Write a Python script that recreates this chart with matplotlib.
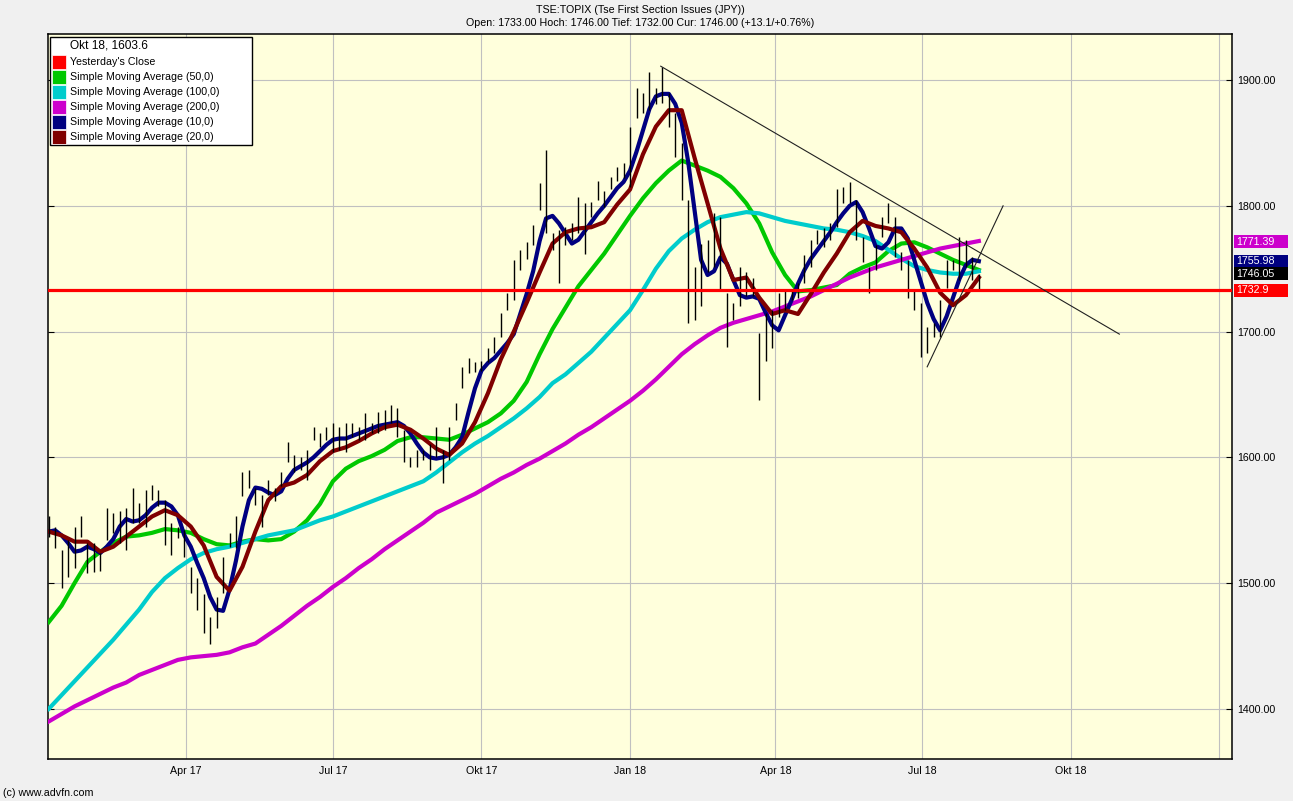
import numpy as np
import pandas as pd
import matplotlib
matplotlib.use("Agg")
import matplotlib.pyplot as plt
from matplotlib.patches import Rectangle
from matplotlib.ticker import FormatStrFormatter

plt.rcParams['font.family'] = ['Liberation Sans', 'DejaVu Sans']

# price bars, one every 4 days from 2017-01-06
bar_start = "2017-01-06"
bar_high = [1553, 1545, 1526, 1534, 1545, 1553, 1532, 1532, 1524, 1560,
            1556, 1557, 1560, 1576, 1564, 1574, 1578, 1574, 1566, 1548,
            1545, 1542, 1513, 1504, 1491, 1473, 1489, 1521, 1540, 1553,
            1588, 1590, 1576, 1570, 1582, 1576, 1588, 1612, 1602, 1600,
            1606, 1624, 1619, 1624, 1627, 1624, 1627, 1627, 1624, 1635,
            1627, 1636, 1638, 1642, 1639, 1622, 1600, 1606, 1606, 1611,
            1624, 1606, 1624, 1643, 1672, 1679, 1676, 1677, 1687, 1696,
            1715, 1731, 1757, 1765, 1771, 1785, 1818, 1844, 1778, 1781,
            1783, 1786, 1807, 1802, 1803, 1820, 1812, 1823, 1831, 1834,
            1863, 1894, 1890, 1906, 1894, 1910, 1890, 1874, 1850, 1805,
            1751, 1770, 1773, 1794, 1791, 1731, 1723, 1751, 1747, 1743,
            1699, 1715, 1717, 1731, 1733, 1733, 1739, 1761, 1773, 1781,
            1782, 1786, 1813, 1815, 1819, 1805, 1775, 1751, 1769, 1791,
            1802, 1791, 1763, 1757, 1733, 1723, 1704, 1707, 1725, 1757,
            1757, 1775, 1773, 1759, 1746]
bar_low = [1537, 1528, 1496, 1505, 1512, 1537, 1508, 1509, 1510, 1534,
           1540, 1532, 1526, 1548, 1548, 1545, 1566, 1561, 1530, 1522,
           1536, 1521, 1492, 1479, 1460, 1452, 1464, 1492, 1529, 1528,
           1569, 1576, 1562, 1545, 1570, 1565, 1577, 1596, 1588, 1590,
           1582, 1614, 1608, 1614, 1604, 1606, 1604, 1616, 1614, 1614,
           1619, 1619, 1622, 1627, 1616, 1596, 1592, 1592, 1598, 1590,
           1600, 1580, 1598, 1630, 1655, 1667, 1668, 1669, 1676, 1683,
           1696, 1717, 1725, 1749, 1758, 1769, 1797, 1778, 1765, 1739,
           1769, 1773, 1778, 1762, 1791, 1805, 1799, 1813, 1820, 1822,
           1815, 1870, 1874, 1876, 1881, 1882, 1863, 1839, 1805, 1707,
           1709, 1720, 1747, 1751, 1733, 1688, 1709, 1720, 1728, 1728,
           1646, 1677, 1687, 1712, 1717, 1725, 1727, 1739, 1751, 1770,
           1767, 1773, 1783, 1802, 1802, 1773, 1755, 1731, 1749, 1775,
           1786, 1759, 1749, 1727, 1717, 1680, 1683, 1696, 1696, 1735,
           1749, 1741, 1751, 1741, 1732]

# 10-day average, same 4-day grid as the bars
ma10 = [1541, 1542, 1538, 1532, 1525, 1526, 1529, 1527, 1524, 1529,
        1535, 1545, 1551, 1549, 1550, 1554, 1560, 1564, 1564, 1561,
        1554, 1538, 1529, 1516, 1504, 1489, 1479, 1478, 1495, 1518,
        1545, 1566, 1576, 1575, 1572, 1570, 1573, 1583, 1590, 1593,
        1596, 1600, 1605, 1610, 1614, 1615, 1615, 1617, 1619, 1621,
        1623, 1625, 1626, 1627, 1628, 1625, 1619, 1611, 1604, 1600,
        1599, 1600, 1602, 1608, 1616, 1636, 1655, 1669, 1675, 1679,
        1685, 1691, 1698, 1714, 1730, 1748, 1772, 1790, 1792, 1786,
        1778, 1770, 1773, 1780, 1787, 1794, 1800, 1807, 1814, 1819,
        1828, 1843, 1860, 1877, 1887, 1889, 1889, 1881, 1866, 1835,
        1796, 1757, 1745, 1748, 1759, 1754, 1741, 1729, 1727, 1728,
        1726, 1715, 1705, 1701, 1713, 1725, 1738, 1749, 1758, 1765,
        1772, 1779, 1787, 1794, 1800, 1803, 1795, 1782, 1768, 1766,
        1771, 1782, 1782, 1774, 1757, 1740, 1723, 1710, 1701, 1712,
        1727, 1742, 1753, 1757, 1756]

# slower averages, one value every 8 days
ma20 = [1541, 1538, 1533, 1533, 1525, 1529, 1537, 1545, 1553, 1558,
        1554, 1545, 1530, 1505, 1494, 1513, 1541, 1566, 1577, 1580,
        1586, 1597, 1605, 1608, 1613, 1619, 1624, 1626, 1622, 1615,
        1607, 1602, 1611, 1628, 1651, 1678, 1700, 1723, 1747, 1770,
        1779, 1782, 1783, 1787, 1801, 1813, 1841, 1863, 1876, 1876,
        1838, 1802, 1766, 1741, 1743, 1727, 1714, 1717, 1714, 1730,
        1747, 1762, 1779, 1788, 1784, 1782, 1779, 1766, 1751, 1731,
        1721, 1729, 1743]
ma50 = [1469, 1482, 1500, 1517, 1525, 1532, 1537, 1538, 1540, 1543,
        1542, 1540, 1535, 1531, 1530, 1533, 1535, 1534, 1535, 1541,
        1550, 1563, 1581, 1591, 1597, 1601, 1606, 1613, 1616, 1616,
        1615, 1614, 1618, 1623, 1628, 1635, 1645, 1660, 1682, 1702,
        1719, 1736, 1749, 1762, 1777, 1792, 1806, 1818, 1828, 1836,
        1832, 1828, 1823, 1814, 1802, 1786, 1763, 1745, 1732, 1733,
        1735, 1737, 1746, 1751, 1755, 1764, 1770, 1771, 1767, 1762,
        1757, 1753, 1749]
ma100 = [1400, 1411, 1422, 1433, 1444, 1455, 1467, 1479, 1493, 1504,
         1512, 1519, 1524, 1527, 1529, 1532, 1535, 1538, 1540, 1542,
         1546, 1550, 1553, 1557, 1561, 1565, 1569, 1573, 1577, 1581,
         1588, 1596, 1604, 1611, 1617, 1624, 1631, 1639, 1648, 1659,
         1666, 1675, 1684, 1695, 1706, 1717, 1733, 1750, 1764, 1774,
         1781, 1787, 1791, 1793, 1795, 1794, 1791, 1788, 1786, 1784,
         1782, 1781, 1779, 1776, 1772, 1765, 1758, 1752, 1749, 1747,
         1746, 1746, 1748]
ma200 = [1390, 1396, 1402, 1407, 1412, 1417, 1421, 1427, 1431, 1435,
         1439, 1441, 1442, 1443, 1445, 1449, 1452, 1459, 1466, 1474,
         1482, 1489, 1497, 1504, 1512, 1519, 1527, 1534, 1541, 1548,
         1556, 1561, 1566, 1571, 1577, 1583, 1588, 1594, 1599, 1605,
         1611, 1618, 1624, 1631, 1638, 1645, 1653, 1662, 1672, 1682,
         1690, 1697, 1703, 1707, 1710, 1713, 1716, 1720, 1724, 1728,
         1733, 1738, 1743, 1747, 1751, 1754, 1757, 1760, 1763, 1766,
         1768, 1770, 1772]

yesterday_close = 1732.9

# hand drawn trend lines
trend_down_dates = ["2018-01-20", "2018-10-31"]
trend_down_vals = [1911, 1698]
trend_up_dates = ["2018-07-04", "2018-08-20"]
trend_up_vals = [1672, 1800]

# last values shown on the right
last_vals = [1771.39, 1755.98, 1746.05, 1732.9]
last_text = ["1771.39", "1755.98", "1746.05", "1732.9"]
last_cols = ["#CC00CC", "#000080", "#000000", "#FF0000"]

legend_names = ["Yesterday's Close", "Simple Moving Average (50,0)",
                "Simple Moving Average (100,0)", "Simple Moving Average (200,0)",
                "Simple Moving Average (10,0)", "Simple Moving Average (20,0)"]
legend_cols = ["#FF0000", "#00C800", "#00CCCC", "#CC00CC", "#000080", "#800000"]

xtick_dates = ["2017-04-01", "2017-07-01", "2017-10-01", "2018-01-01",
               "2018-04-01", "2018-07-01", "2018-10-01", "2019-01-01"]
xtick_labels = ["Apr 17", "Jul 17", "Okt 17", "Jan 18", "Apr 18", "Jul 18", "Okt 18", ""]
yticks = [1400, 1500, 1600, 1700, 1800, 1900]

W, H = 1293, 801
fs = 7.7

bar_dates = pd.date_range(bar_start, periods=len(bar_high), freq="4D")
d10 = pd.date_range(bar_start, periods=len(ma10), freq="4D")
d8 = pd.date_range(bar_start, periods=len(ma20), freq="8D")

fig = plt.figure(figsize=(W / 100, H / 100), dpi=100, facecolor="#F0F0F0")
ax = fig.add_axes([48 / W, 1 - 759 / H, (1232 - 48) / W, (759 - 34) / H])
ax.set_facecolor("#FFFFDC")

lw_ma = 3.0
ax.plot(d8, ma50, color="#00C800", lw=lw_ma, zorder=3)
ax.plot(d8, ma100, color="#00CCCC", lw=lw_ma, zorder=3)
ax.plot(d8, ma200, color="#CC00CC", lw=lw_ma, zorder=3)
ax.plot(d10, ma10, color="#000080", lw=lw_ma, zorder=3)
ax.plot(d8, ma20, color="#800000", lw=lw_ma, zorder=3)

ax.vlines(bar_dates, bar_low, bar_high, color="black", lw=1.0, zorder=4)

ax.axhline(yesterday_close, color="#FF0000", lw=2.3, zorder=5)

ax.plot(pd.to_datetime(trend_down_dates), trend_down_vals, color="#202020", lw=0.8, zorder=6)
ax.plot(pd.to_datetime(trend_up_dates), trend_up_vals, color="#202020", lw=0.8, zorder=6)

ax.set_xlim(pd.Timestamp("2017-01-05 14:00"), pd.Timestamp("2019-01-08 18:00"))
ax.set_ylim(1360.2, 1936.6)

ax.set_xticks(pd.to_datetime(xtick_dates))
ax.set_xticklabels(xtick_labels, fontsize=fs)
ax.set_yticks(yticks)
ax.yaxis.set_major_formatter(FormatStrFormatter("%.2f"))
ax.tick_params(axis="x", length=0, pad=5)
ax.tick_params(axis="y", direction="in", length=4, left=True, right=True,
               labelleft=False, labelright=True, labelsize=fs, pad=4)
ax.grid(True, color="#C0C0C0", lw=0.8)
ax.set_axisbelow(True)
for s in ax.spines.values():
    s.set_linewidth(1.1)
    s.set_color("black")

# value boxes at the right
inv = fig.transFigure.inverted()
x0 = ax.get_xlim()[0]
for v, t, c in zip(last_vals, last_text, last_cols):
    yf = inv.transform(ax.transData.transform((x0, v)))[1]
    fig.patches.append(Rectangle((1234 / W, yf - 6.5 / H), 54 / W, 13 / H,
                                 transform=fig.transFigure, facecolor=c,
                                 edgecolor="none", zorder=10))
    fig.text(1236 / W, yf, t, color="white", fontsize=fs, va="center",
             ha="left", zorder=11)

# legend box
fig.patches.append(Rectangle((50 / W, 1 - 145 / H), 202 / W, 108 / H,
                             transform=fig.transFigure, facecolor="white",
                             edgecolor="black", lw=1, zorder=10))
fig.text(70 / W, 1 - 46 / H, "Okt 18, 1603.6", fontsize=8.6, va="center", zorder=11)
for i, (name, col) in enumerate(zip(legend_names, legend_cols)):
    yc = 62.3 + i * 15
    fig.patches.append(Rectangle((52 / W, 1 - (yc + 7) / H), 14 / W, 14 / H,
                                 transform=fig.transFigure, facecolor=col,
                                 edgecolor="white", lw=0.5, zorder=11))
    fig.text(70 / W, 1 - yc / H, name, fontsize=fs, va="center", zorder=12)

fig.text(640 / W, 1 - 10 / H, "TSE:TOPIX (Tse First Section Issues (JPY))",
         ha="center", va="center", fontsize=fs)
fig.text(640 / W, 1 - 23 / H,
         "Open: 1733.00 Hoch: 1746.00 Tief: 1732.00 Cur: 1746.00 (+13.1/+0.76%)",
         ha="center", va="center", fontsize=fs)
fig.text(3 / W, 1 - 793 / H, "(c) www.advfn.com", va="center", fontsize=fs)

fig.savefig("out.png", dpi=100, facecolor=fig.get_facecolor())
